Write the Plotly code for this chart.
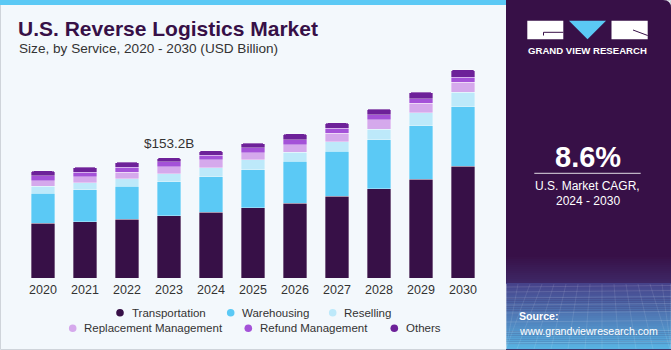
import plotly.graph_objects as go

years = ['2020', '2021', '2022', '2023', '2024', '2025', '2026', '2027', '2028', '2029', '2030']
transportation = [69.7, 71.7, 75.1, 79.0, 83.7, 89.5, 95.1, 104.0, 113.7, 125.7, 142.6]
warehousing = [38.2, 40.4, 42.0, 43.7, 45.3, 48.4, 53.5, 57.3, 62.4, 68.3, 75.5]
reselling = [8.9, 8.9, 9.3, 10.2, 11.1, 12.4, 11.5, 12.2, 13.2, 16.6, 18.7]
replacement = [7.1, 8.0, 8.2, 8.9, 10.2, 8.9, 9.7, 11.1, 12.2, 12.0, 12.4]
refund = [6.4, 5.6, 6.4, 6.0, 6.0, 6.4, 6.0, 6.4, 6.4, 5.5, 6.7]
others = [6.0, 6.4, 6.4, 5.4, 5.9, 6.0, 7.6, 6.4, 7.3, 8.5, 9.3]

series_names = ['Transportation', 'Warehousing', 'Reselling',
                'Replacement Management', 'Refund Management', 'Others']
series_values = [transportation, warehousing, reselling, replacement, refund, others]
colors = ['#371047', '#5BC9F5', '#BDE9FA', '#D5A9EC', '#A452D8', '#6D2199']

label_year = '2023'
label_text = '$153.2B'

W, H = 671, 350
L, R, T, B = 22, 187, 66, 72
PW, PH = W - L - R, H - T - B

# legend layout (pixel positions: marker centre x, row centre y)
legend_marker_x = [120, 230.7, 332.7, 72.7, 248.3, 394.3]
legend_row_y = [312.7, 312.7, 312.7, 328.3, 328.3, 328.3]


def xp(px):
    return (px - L) / PW


def yp(py):
    return (H - B - py) / PH


fig = go.Figure()

for name, vals, col in zip(series_names, series_values, colors):
    fig.add_trace(go.Bar(
        x=years, y=vals, name=name, marker_color=col,
        marker_line=dict(color='rgba(255,255,255,0.55)', width=0.6),
        showlegend=False,
    ))

shapes = []
# outer border
shapes.append(dict(type='rect', xref='paper', yref='paper',
                   x0=xp(0.5), x1=xp(670.5), y0=yp(0.5), y1=yp(349.5),
                   line=dict(color='#cfd4da', width=1), fillcolor='#F3F8FC', layer='below'))
# top blue strip
shapes.append(dict(type='rect', xref='paper', yref='paper',
                   x0=xp(0), x1=xp(506), y0=yp(0), y1=yp(5),
                   line=dict(width=0), fillcolor='#5BC9F5', layer='below'))
# right panel with rounded top-right corner
r = 8
p = (f"M {xp(506)} {yp(0)} L {xp(671 - r)} {yp(0)} "
     f"Q {xp(671)} {yp(0)} {xp(671)} {yp(r)} "
     f"L {xp(671)} {yp(350)} L {xp(506)} {yp(350)} Z")
shapes.append(dict(type='path', xref='paper', yref='paper', path=p,
                   line=dict(width=0), fillcolor='#371047', layer='below'))


def lerp(c1, c2, t):
    a = [int(c1[i:i + 2], 16) for i in (1, 3, 5)]
    b = [int(c2[i:i + 2], 16) for i in (1, 3, 5)]
    return 'rgb(%d,%d,%d)' % tuple(round(a[k] + (b[k] - a[k]) * t) for k in range(3))


# bottom gradient bands of the panel
n1 = 14
for i in range(n1):
    y0 = 255 + i * (283 - 255) / n1
    y1 = 255 + (i + 1) * (283 - 255) / n1
    shapes.append(dict(type='rect', xref='paper', yref='paper',
                       x0=xp(506), x1=xp(671), y0=yp(y0), y1=yp(y1 + 0.3),
                       line=dict(width=0), fillcolor=lerp('#371047', '#3e2765', i / (n1 - 1)),
                       layer='below'))
n2 = 34
for i in range(n2):
    y0 = 283 + i * (349 - 283) / n2
    y1 = 283 + (i + 1) * (349 - 283) / n2
    shapes.append(dict(type='rect', xref='paper', yref='paper',
                       x0=xp(506), x1=xp(671), y0=yp(y0), y1=yp(y1 + 0.3),
                       line=dict(width=0), fillcolor=lerp('#46428a', '#58b2e2', i / (n2 - 1)),
                       layer='below'))
# faint mesh lines
for yy in [287, 292, 298, 305, 313, 322, 332, 343]:
    shapes.append(dict(type='line', xref='paper', yref='paper',
                       x0=xp(506), x1=xp(671), y0=yp(yy), y1=yp(yy - 1.5),
                       line=dict(color='rgba(255,255,255,0.16)', width=0.8), layer='below'))
for k in range(-6, 16):
    xa = 506 + k * 12
    xb = 506 + k * 17 - 40
    shapes.append(dict(type='line', xref='paper', yref='paper',
                       x0=xp(max(506, min(671, xa))), x1=xp(max(506, min(671, xb))),
                       y0=yp(284), y1=yp(349),
                       line=dict(color='rgba(255,255,255,0.13)', width=0.8), layer='below'))
# logo blocks
shapes.append(dict(type='rect', xref='paper', yref='paper',
                   x0=xp(527.3), x1=xp(563.3), y0=yp(20.7), y1=yp(39.3),
                   line=dict(width=0), fillcolor='white'))
shapes.append(dict(type='rect', xref='paper', yref='paper',
                   x0=xp(611.5), x1=xp(647.7), y0=yp(20.7), y1=yp(39.3),
                   line=dict(width=0), fillcolor='white'))
shapes.append(dict(type='path', xref='paper', yref='paper',
                   path=f"M {xp(569)} {yp(20.7)} L {xp(606)} {yp(20.7)} L {xp(587.5)} {yp(39.3)} Z",
                   line=dict(width=0), fillcolor='#5BC9F5'))
shapes.append(dict(type='path', xref='paper', yref='paper',
                   path=f"M {xp(563.3)} {yp(32.3)} L {xp(543.5)} {yp(32.3)} L {xp(543.5)} {yp(35.5)}",
                   line=dict(color='#371047', width=1)))
shapes.append(dict(type='path', xref='paper', yref='paper',
                   path=f"M {xp(633)} {yp(30)} L {xp(647.7)} {yp(35.5)}",
                   line=dict(color='#371047', width=1)))
# separator line in panel
shapes.append(dict(type='line', xref='paper', yref='paper',
                   x0=xp(534.3), x1=xp(640.7), y0=yp(173.3), y1=yp(173.3),
                   line=dict(color='rgba(255,255,255,0.85)', width=1)))

FONT = 'Liberation Sans, Arial, sans-serif'
annotations = [
    dict(text='<b>U.S. Reverse Logistics Market</b>', x=xp(16), y=yp(28.5),
         xanchor='left', yanchor='middle', font=dict(size=21, color='#371047', family=FONT)),
    dict(text='Size, by Service, 2020 - 2030 (USD Billion)', x=xp(16.5), y=yp(49),
         xanchor='left', yanchor='middle', font=dict(size=13.6, color='#333333', family=FONT)),
    dict(text='<b>GRAND VIEW RESEARCH</b>', x=xp(587.5), y=yp(50.8),
         xanchor='center', yanchor='middle', font=dict(size=9.6, color='white', family=FONT)),
    dict(text='<b>8.6%</b>', x=xp(587.5), y=yp(156.5),
         xanchor='center', yanchor='middle', font=dict(size=29, color='white', family=FONT)),
    dict(text='U.S. Market CAGR,', x=xp(587.5), y=yp(186),
         xanchor='center', yanchor='middle', font=dict(size=12, color='white', family=FONT)),
    dict(text='2024 - 2030', x=xp(587.5), y=yp(201),
         xanchor='center', yanchor='middle', font=dict(size=12, color='white', family=FONT)),
    dict(text='<b>Source:</b>', x=xp(517), y=yp(316),
         xanchor='left', yanchor='middle', font=dict(size=10.6, color='white', family=FONT)),
    dict(text='www.grandviewresearch.com', x=xp(517), y=yp(330.5),
         xanchor='left', yanchor='middle', font=dict(size=10.6, color='white', family=FONT)),
]

# legend: circle markers + labels
rad = 3.8
for name, col, mx, my in zip(series_names, colors, legend_marker_x, legend_row_y):
    shapes.append(dict(type='circle', xref='paper', yref='paper',
                       x0=xp(mx - rad), x1=xp(mx + rad), y0=yp(my + rad), y1=yp(my - rad),
                       line=dict(width=0), fillcolor=col))
    annotations.append(dict(text=name, x=xp(mx + 9.5), y=yp(my), xanchor='left', yanchor='middle',
                            font=dict(size=11.5, color='#333333', family=FONT)))

for a in annotations:
    a.update(xref='paper', yref='paper', showarrow=False)

idx = years.index(label_year)
total = sum(v[idx] for v in series_values)
annotations.append(dict(text=label_text, x=idx, y=total, xref='x', yref='y',
                        showarrow=False, yanchor='bottom', yshift=5,
                        font=dict(size=13.5, color='#333333', family=FONT)))

fig.update_layout(
    width=W, height=H,
    margin=dict(l=L, r=R, t=T, b=B, pad=0, autoexpand=False),
    paper_bgcolor='#F3F8FC', plot_bgcolor='rgba(0,0,0,0)',
    barmode='stack', bargap=0.43, barcornerradius=3,
    font=dict(family=FONT, color='#333333'),
    shapes=shapes, annotations=annotations,
    xaxis=dict(type='category', categoryorder='array', categoryarray=years,
               range=[-0.5, len(years) - 0.5], showgrid=False, zeroline=False, showline=False,
               ticks='', ticklen=2, ticklabelstandoff=2,
               tickfont=dict(size=12.5, color='#333333'), fixedrange=True),
    yaxis=dict(range=[0, PH * 153.2 / 120.3], visible=False, showgrid=False, fixedrange=True),
    showlegend=False,
)

fig.write_html('out.html')
